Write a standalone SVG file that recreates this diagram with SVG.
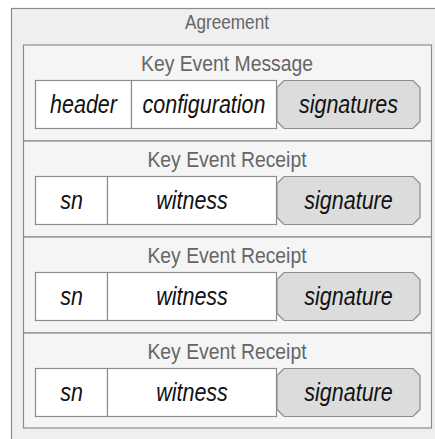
<svg xmlns="http://www.w3.org/2000/svg" width="435" height="439" viewBox="0 0 435 439">
<style>
.outer{fill:#efefef;stroke:#8c8c8c;stroke-width:1.2}
.sec{fill:#f5f5f5;stroke:#8c8c8c;stroke-width:1.2}
.cell{fill:#ffffff;stroke:#8c8c8c;stroke-width:1.2}
.sig{fill:#dcdcdc;stroke:#8c8c8c;stroke-width:1.2}
.title{font-family:"Liberation Sans",Arial,sans-serif;fill:#666;text-anchor:middle;font-size:21.5px}
.lbl{font-family:"Liberation Sans",Arial,sans-serif;font-style:italic;font-size:25px;fill:#111;text-anchor:middle}
</style>
<g id="agreement">
<rect class="outer" x="11.5" y="8.5" width="440" height="440"/>
<text class="title" transform="translate(227,29) scale(0.89,1)" style="font-size:19.3px">Agreement</text>
</g>
<g id="kem">
<rect class="sec" x="23.5" y="45" width="408" height="96"/>
<text class="title" transform="translate(227,70.5) scale(0.9,1)">Key Event Message</text>
<rect class="cell" x="35.5" y="80.5" width="96" height="48"/>
<text class="lbl" transform="translate(83.5,113) scale(0.86,1)">header</text>
<rect class="cell" x="131.5" y="80.5" width="145" height="48"/>
<text class="lbl" transform="translate(204,113) scale(0.86,1)">configuration</text>
<polygon class="sig" points="284,80.5 413,80.5 420,87.5 420,121.5 413,128.5 284,128.5 277,121.5 277,87.5"/>
<text class="lbl" transform="translate(348.5,113) scale(0.86,1)">signatures</text>
</g>
<g id="ker1">
<rect class="sec" x="23.5" y="141" width="408" height="96"/>
<text class="title" transform="translate(227,166.5) scale(0.9,1)">Key Event Receipt</text>
<rect class="cell" x="35.5" y="176.5" width="72" height="48"/>
<text class="lbl" transform="translate(71.5,209) scale(0.86,1)">sn</text>
<rect class="cell" x="107.5" y="176.5" width="169" height="48"/>
<text class="lbl" transform="translate(192,209) scale(0.86,1)">witness</text>
<polygon class="sig" points="284,176.5 413,176.5 420,183.5 420,217.5 413,224.5 284,224.5 277,217.5 277,183.5"/>
<text class="lbl" transform="translate(348.5,209) scale(0.86,1)">signature</text>
</g>
<g id="ker2">
<rect class="sec" x="23.5" y="237" width="408" height="96"/>
<text class="title" transform="translate(227,262.5) scale(0.9,1)">Key Event Receipt</text>
<rect class="cell" x="35.5" y="272.5" width="72" height="48"/>
<text class="lbl" transform="translate(71.5,305) scale(0.86,1)">sn</text>
<rect class="cell" x="107.5" y="272.5" width="169" height="48"/>
<text class="lbl" transform="translate(192,305) scale(0.86,1)">witness</text>
<polygon class="sig" points="284,272.5 413,272.5 420,279.5 420,313.5 413,320.5 284,320.5 277,313.5 277,279.5"/>
<text class="lbl" transform="translate(348.5,305) scale(0.86,1)">signature</text>
</g>
<g id="ker3">
<rect class="sec" x="23.5" y="333" width="408" height="95"/>
<text class="title" transform="translate(227,358.5) scale(0.9,1)">Key Event Receipt</text>
<rect class="cell" x="35.5" y="368.5" width="72" height="48"/>
<text class="lbl" transform="translate(71.5,401) scale(0.86,1)">sn</text>
<rect class="cell" x="107.5" y="368.5" width="169" height="48"/>
<text class="lbl" transform="translate(192,401) scale(0.86,1)">witness</text>
<polygon class="sig" points="284,368.5 413,368.5 420,375.5 420,409.5 413,416.5 284,416.5 277,409.5 277,375.5"/>
<text class="lbl" transform="translate(348.5,401) scale(0.86,1)">signature</text>
</g>
<g id="connectors"/>
</svg>
